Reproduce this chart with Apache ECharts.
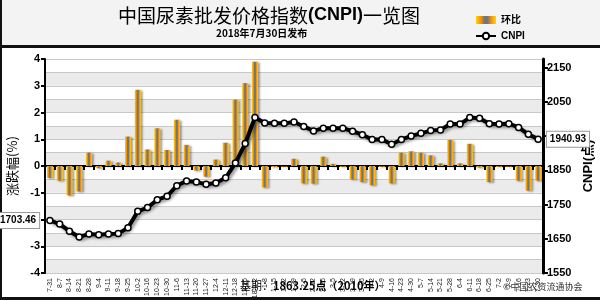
<!DOCTYPE html>
<html>
<head>
<meta charset="utf-8">
<script src="https://cdn.jsdelivr.net/npm/echarts@6/dist/echarts.min.js"></script>
<style>
  html, body { margin: 0; padding: 0; background: #fff; }
  #chart { width: 600px; height: 300px; }
</style>
</head>
<body>
<div id="chart"></div>
<script>
// weekly release dates (2017-7-31 .. 2018-7-30)
const categories = [
  '7-31', '8-7', '8-14', '8-21', '8-28', '9-4', '9-11', '9-18', '9-25', '10-2',
  '10-16', '10-23', '10-30', '11-6', '11-13', '11-20', '11-27', '12-4', '12-11', '12-18',
  '12-25', '2018-1-2', '1-8', '1-15', '1-22', '1-29', '2-5', '2-12', '2-26', '3-5',
  '3-12', '3-19', '3-26', '4-2', '4-9', '4-16', '4-23', '4-30', '5-7', '5-14',
  '5-21', '5-28', '6-4', '6-11', '6-18', '6-25', '7-2', '7-9', '7-16', '7-23', '7-30',
]

// 环比 (%)
const changePct = [
  -0.45, -0.55, -1.1, -0.95, 0.5, -0.08, 0.2, 0.13, 1.1, 2.85,
  0.62, 1.41, 0.6, 1.73, 0.79, -0.17, -0.4, 0.24, 0.87, 2.48,
  3.1, 3.9, -0.8, -0.04, -0.02, 0.27, -0.65, -0.66, 0.35, 0.08,
  -0.03, -0.5, -0.6, -0.72, -0.03, -0.65, 0.5, 0.55, 0.5, 0.4,
  0.1, 0.98, 0.1, 0.83, -0.06, -0.6, -0.03, -0.02, -0.55, -0.92, -0.55,
]

// CNPI index (points)
const cnpi = [
  1703.46, 1693, 1672, 1655, 1664, 1662, 1664, 1665, 1682, 1730,
  1741, 1764, 1774, 1805, 1819, 1816, 1809, 1813, 1828, 1871,
  1928, 2004, 1988, 1987, 1987, 1991, 1978, 1965, 1973, 1973,
  1973, 1964, 1954, 1940, 1940, 1926, 1940, 1950, 1958, 1966,
  1968, 1985, 1985, 2004, 2002, 1986, 1985, 1986, 1975, 1955, 1940.93,
]

const leftTicks = { min: -4, max: 4, interval: 1 }
const rightTicks = { min: 1550, max: 2175, interval: 100 }

const FONT = '"Liberation Sans", Arial, "Noto Sans CJK SC", sans-serif'
const CJK = '"Noto Sans CJK SC", "Liberation Sans", sans-serif'

const barColor = new echarts.graphic.LinearGradient(0, 0, 1, 0, [
  { offset: 0, color: '#ffd21a' },
  { offset: 0.25, color: '#f39200' },
  { offset: 0.42, color: '#757575' },
  { offset: 0.58, color: '#757575' },
  { offset: 0.75, color: '#f39200' },
  { offset: 1, color: '#ffd21a' },
])

const endLabel = (position) => ({
  show: true,
  position: position,
  distance: position === 'left' ? 7 : 5,
  formatter: (p) => p.value.toFixed(2),
  color: '#000',
  fontFamily: FONT,
  fontWeight: 'bold',
  fontSize: 10,
  backgroundColor: '#fff',
  borderColor: '#999',
  borderWidth: 1,
  padding: [3, 3, 2, 3],
})

const lineData = cnpi.map((v, i) => {
  if (i === 0) return { value: v, label: endLabel('left') }
  if (i === cnpi.length - 1) return { value: v, label: endLabel('right') }
  return v
})

const chart = echarts.init(document.getElementById('chart'), null, { renderer: 'canvas' })

const option = {
  animation: false,
  backgroundColor: '#fff',
  graphic: [
    { type: 'rect', shape: { x: 0, y: 0, width: 600, height: 46 }, style: { fill: '#f3f3f3' }, z: -10 },
    { type: 'rect', shape: { x: 0, y: 45, width: 600, height: 3 }, style: { fill: '#111' } },
    { type: 'rect', shape: { x: 0, y: 0, width: 2, height: 300 }, style: { fill: '#111' } },
    { type: 'rect', shape: { x: 0, y: 297, width: 600, height: 3 }, style: { fill: '#111' } },
    {
      type: 'text', left: 118, top: 6, z: 10,
      style: {
        text: '{a|中国尿素批发价格指数}{b|(CNPI)}{a|一览图}',
        rich: {
          a: { fontFamily: CJK, fontSize: 19, fill: '#000' },
          b: { fontFamily: FONT, fontSize: 18, fontWeight: 'bold', fill: '#000' },
        },
      },
    },
    {
      type: 'text', left: 216, top: 28, z: 10,
      style: { text: '2018年7月30日发布', font: 'bold 10px ' + CJK, fill: '#000' },
    },
    {
      type: 'text', left: 240, top: 280, z: 10,
      style: {
        text: '{a|基期：}{b|1863.25点（2010年）}',
        rich: {
          a: { fontFamily: CJK, fontSize: 11, fill: '#000' },
          b: { fontFamily: CJK, fontSize: 11, fontWeight: 'bold', fill: '#000' },
        },
      },
    },
    {
      type: 'text', left: 503, top: 282, z: 10,
      style: { text: '©中国农资流通协会', font: 'normal 9px ' + CJK, fill: '#333' },
    },
  ],
  legend: {
    orient: 'vertical',
    left: 470,
    top: 10,
    itemGap: 6,
    itemWidth: 20,
    itemHeight: 8,
    textStyle: { fontFamily: FONT, fontSize: 10, fontWeight: 'bold', color: '#000' },
    data: [
      { name: '环比', icon: 'rect' },
      { name: 'CNPI' },
    ],
  },
  grid: { left: 45, right: 57, top: 59, bottom: 27, outerBoundsMode: 'none', containLabel: false },
  xAxis: {
    type: 'category',
    data: categories,
    boundaryGap: true,
    axisLine: { onZero: true, onZeroAxisIndex: 0, lineStyle: { color: '#000', width: 2 } },
    axisTick: { show: true, interval: 0, length: 4, lineStyle: { color: '#000', width: 2 } },
    axisLabel: {
      interval: 0,
      rotate: 90,
      margin: 5,
      fontSize: 7,
      fontFamily: FONT,
      color: '#222',
    },
    splitLine: { show: false },
  },
  yAxis: [
    {
      type: 'value',
      position: 'left',
      min: leftTicks.min,
      max: leftTicks.max,
      interval: leftTicks.interval,
      name: '涨跌幅(%)',
      nameLocation: 'middle',
      nameRotate: 90,
      nameGap: 26,
      nameTextStyle: { fontFamily: CJK, fontSize: 13, color: '#000' },
      axisLine: { show: true, lineStyle: { color: '#000', width: 2 } },
      axisTick: { show: true, length: 4, lineStyle: { color: '#000', width: 2 } },
      axisLabel: { fontFamily: FONT, fontWeight: 'bold', fontSize: 11, color: '#000', margin: 5 },
      splitLine: { show: false },
    },
    {
      type: 'value',
      position: 'right',
      min: rightTicks.min,
      max: rightTicks.max,
      interval: rightTicks.interval,
      name: 'CNPI(点)',
      nameLocation: 'middle',
      nameRotate: 90,
      nameGap: 38,
      nameTextStyle: { fontFamily: FONT, fontSize: 13, fontWeight: 'bold', color: '#000' },
      axisLine: { show: true, lineStyle: { color: '#000', width: 3 } },
      axisTick: { show: true, length: 5, lineStyle: { color: '#000', width: 2 } },
      axisLabel: {
        showMaxLabel: false,
        formatter: (v) => String(v),
        fontFamily: FONT,
        fontWeight: 'bold',
        fontSize: 11,
        color: '#000',
        margin: 4,
      },
      splitLine: { show: false },
    },
    {
      // background bands every 0.5 on the left scale
      type: 'value',
      position: 'left',
      min: leftTicks.min,
      max: leftTicks.max,
      interval: 0.5,
      axisLine: { show: false },
      axisTick: { show: false },
      axisLabel: { show: false },
      splitLine: { show: true, lineStyle: { color: '#c8c8c8', width: 1 } },
      splitArea: { show: true, areaStyle: { color: ['#ebebeb', '#ffffff'] } },
      z: 0,
    },
  ],
  series: [
    {
      name: '环比',
      type: 'bar',
      yAxisIndex: 0,
      barWidth: 6,
      data: changePct,
      itemStyle: {
        color: barColor,
        shadowColor: 'rgba(0,0,0,0.35)',
        shadowBlur: 2,
        shadowOffsetX: 2,
        shadowOffsetY: 1,
      },
      z: 2,
    },
    {
      name: 'CNPI',
      type: 'line',
      yAxisIndex: 1,
      data: lineData,
      symbol: 'circle',
      symbolSize: 6,
      showAllSymbol: true,
      lineStyle: {
        color: '#000',
        width: 4,
        shadowColor: 'rgba(0,0,0,0.4)',
        shadowBlur: 3,
        shadowOffsetX: 2,
        shadowOffsetY: 2,
      },
      itemStyle: { color: '#fff', borderColor: '#000', borderWidth: 1.5 },
      z: 5,
    },
  ],
}

chart.setOption(option)
</script>
</body>
</html>
